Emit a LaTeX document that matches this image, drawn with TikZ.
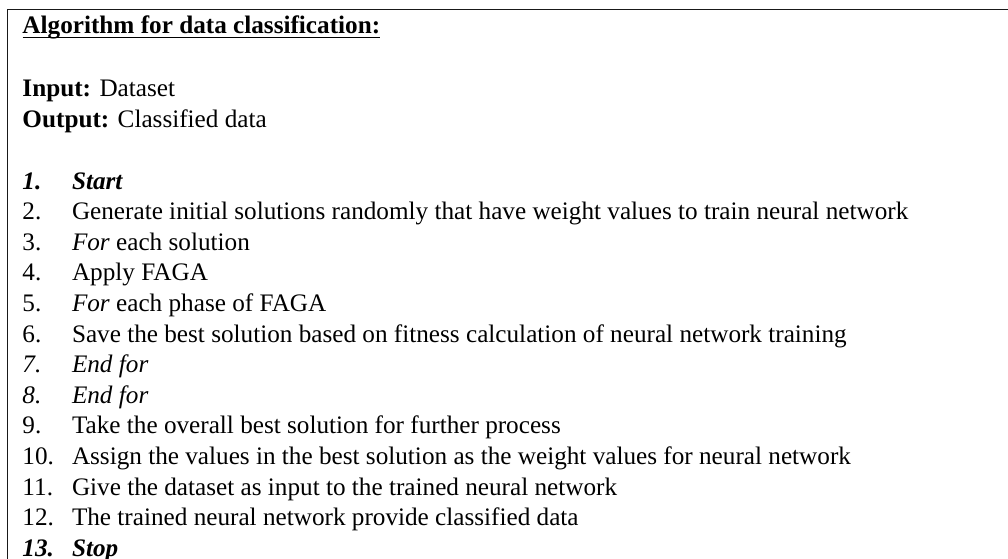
\documentclass[tikz,border=0pt]{standalone}
\usepackage{fontspec}
\setmainfont{Liberation Serif}
\begin{document}
\begin{tikzpicture}[x=0.5pt,y=-0.5pt,
  txt/.style={inner sep=0pt,outer sep=0pt,anchor=base west,font=\fontsize{12.6}{15}\selectfont},
  frame/.style={line width=0.85pt,black!90},
  uline/.style={line width=0.75pt,black}]
\useasboundingbox (0,0) rectangle (1008,558);

% open frame: top and left edges
\draw[frame] (7.5,560) -- (7.5,9.5) -- (1010,9.5);

% heading
\node[txt] (title) at (22.5,33) {\textbf{Algorithm for data classification:}};
\draw[uline] ([yshift=-2.2pt]title.base west) -- ([yshift=-2.2pt]title.base east);

\node[txt] (input)  at (22.5,96.5) {\textbf{Input:} Dataset};
\node[txt] (output) at (22.5,127)  {\textbf{Output:} Classified data};

% numbered steps
\foreach \k/\num/\body in {
  1/{\textbf{\textit{1.}}}/{\textbf{\textit{Start}}},
  2/{2.}/{Generate initial solutions randomly that have weight values to train neural network},
  3/{3.}/{\textit{For} each solution},
  4/{4.}/{Apply FAGA},
  5/{5.}/{\textit{For} each phase of FAGA},
  6/{6.}/{Save the best solution based on fitness calculation of neural network training},
  7/{\textit{7.}}/{\textit{End for}},
  8/{\textit{8.}}/{\textit{End for}},
  9/{9.}/{Take the overall best solution for further process},
  10/{10.}/{Assign the values in the best solution as the weight values for neural network},
  11/{11.}/{Give the dataset as input to the trained neural network},
  12/{12.}/{The trained neural network provide classified data},
  13/{\textbf{\textit{13.}}}/{\textbf{\textit{Stop}}}}
{
  \node[txt] (n\k) at (22.5,{189+(\k-1)*30.6}) {\num};
  \node[txt] (t\k) at (72,{189+(\k-1)*30.6}) {\body};
}
\end{tikzpicture}
\end{document}
